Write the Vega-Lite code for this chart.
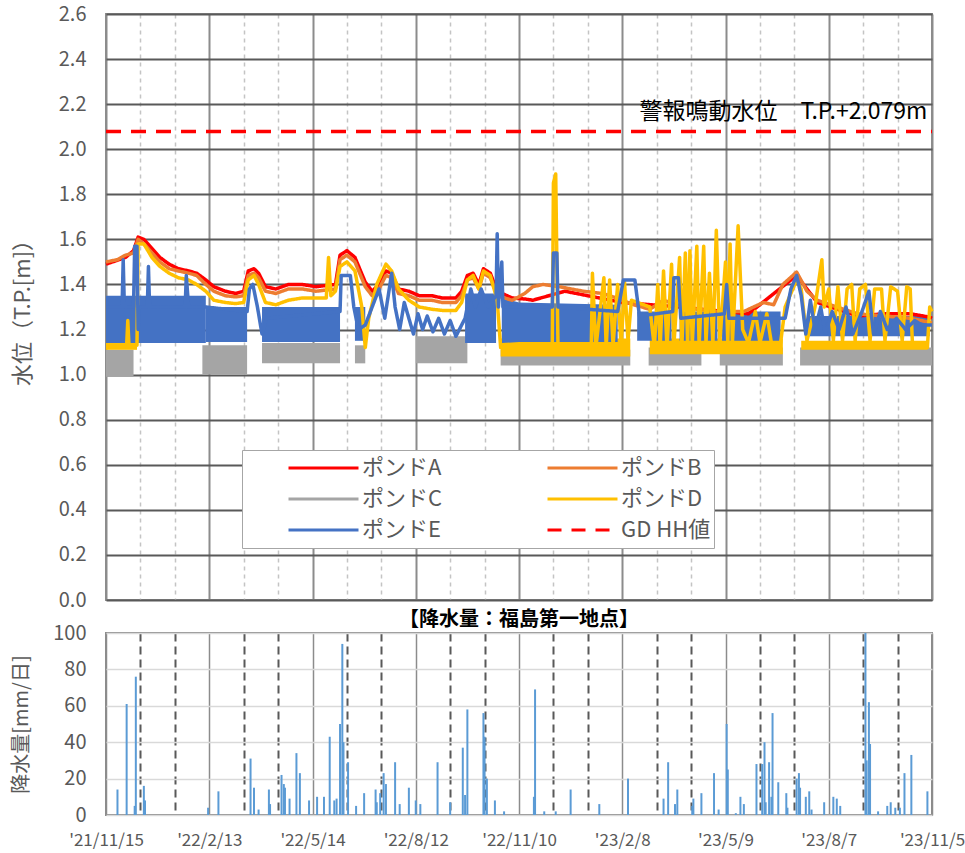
{
  "$schema": "https://vega.github.io/schema/vega-lite/v6.json",
  "padding": {"left": 9, "top": 3, "right": 5, "bottom": 4},
  "spacing": 33,
  "bounds": "flush",
  "resolve": {"scale": {"x": "independent", "y": "independent"}},
  "config": {
    "font": "Noto Sans CJK JP",
    "view": {"stroke": "#8c8c8c", "strokeWidth": 2},
    "axis": {"labelColor": "#595959", "titleColor": "#595959", "titleFontWeight": "normal"}
  },
  "datasets": {
    "levels": [
      {"series": "ポンドA", "date": "2021-11-15", "value": 1.49},
      {"series": "ポンドA", "date": "2021-12-02", "value": 1.52},
      {"series": "ポンドA", "date": "2021-12-09", "value": 1.55},
      {"series": "ポンドA", "date": "2021-12-13", "value": 1.61},
      {"series": "ポンドA", "date": "2021-12-18", "value": 1.60},
      {"series": "ポンドA", "date": "2021-12-25", "value": 1.56},
      {"series": "ポンドA", "date": "2022-01-01", "value": 1.52},
      {"series": "ポンドA", "date": "2022-01-09", "value": 1.49},
      {"series": "ポンドA", "date": "2022-01-17", "value": 1.47},
      {"series": "ポンドA", "date": "2022-01-26", "value": 1.46},
      {"series": "ポンドA", "date": "2022-02-02", "value": 1.45},
      {"series": "ポンドA", "date": "2022-02-10", "value": 1.42},
      {"series": "ポンドA", "date": "2022-02-17", "value": 1.39},
      {"series": "ポンドA", "date": "2022-02-27", "value": 1.37},
      {"series": "ポンドA", "date": "2022-03-08", "value": 1.36},
      {"series": "ポンドA", "date": "2022-03-15", "value": 1.37},
      {"series": "ポンドA", "date": "2022-03-19", "value": 1.46},
      {"series": "ポンドA", "date": "2022-03-24", "value": 1.47},
      {"series": "ポンドA", "date": "2022-03-28", "value": 1.45},
      {"series": "ポンドA", "date": "2022-04-03", "value": 1.39},
      {"series": "ポンドA", "date": "2022-04-12", "value": 1.38},
      {"series": "ポンドA", "date": "2022-04-23", "value": 1.40},
      {"series": "ポンドA", "date": "2022-05-05", "value": 1.40},
      {"series": "ポンドA", "date": "2022-05-17", "value": 1.39},
      {"series": "ポンドA", "date": "2022-06-03", "value": 1.40},
      {"series": "ポンドA", "date": "2022-06-07", "value": 1.53},
      {"series": "ポンドA", "date": "2022-06-13", "value": 1.55},
      {"series": "ポンドA", "date": "2022-06-20", "value": 1.52},
      {"series": "ポンドA", "date": "2022-06-29", "value": 1.41},
      {"series": "ポンドA", "date": "2022-07-05", "value": 1.37},
      {"series": "ポンドA", "date": "2022-07-11", "value": 1.40},
      {"series": "ポンドA", "date": "2022-07-17", "value": 1.46},
      {"series": "ポンドA", "date": "2022-07-22", "value": 1.45},
      {"series": "ポンドA", "date": "2022-07-28", "value": 1.38},
      {"series": "ポンドA", "date": "2022-08-06", "value": 1.37},
      {"series": "ポンドA", "date": "2022-08-15", "value": 1.35},
      {"series": "ポンドA", "date": "2022-08-26", "value": 1.35},
      {"series": "ポンドA", "date": "2022-09-04", "value": 1.34},
      {"series": "ポンドA", "date": "2022-09-16", "value": 1.34},
      {"series": "ポンドA", "date": "2022-09-21", "value": 1.37},
      {"series": "ポンドA", "date": "2022-09-26", "value": 1.44},
      {"series": "ポンドA", "date": "2022-10-01", "value": 1.45},
      {"series": "ポンドA", "date": "2022-10-06", "value": 1.40},
      {"series": "ポンドA", "date": "2022-10-10", "value": 1.47},
      {"series": "ポンドA", "date": "2022-10-16", "value": 1.45},
      {"series": "ポンドA", "date": "2022-10-22", "value": 1.37},
      {"series": "ポンドA", "date": "2022-11-04", "value": 1.34},
      {"series": "ポンドA", "date": "2022-11-16", "value": 1.335},
      {"series": "ポンドA", "date": "2022-11-22", "value": 1.33},
      {"series": "ポンドA", "date": "2022-12-20", "value": 1.37},
      {"series": "ポンドA", "date": "2023-02-08", "value": 1.32},
      {"series": "ポンドA", "date": "2023-03-30", "value": 1.30},
      {"series": "ポンドA", "date": "2023-05-29", "value": 1.27},
      {"series": "ポンドA", "date": "2023-07-10", "value": 1.44},
      {"series": "ポンドA", "date": "2023-07-28", "value": 1.32},
      {"series": "ポンドA", "date": "2023-09-01", "value": 1.26},
      {"series": "ポンドA", "date": "2023-09-24", "value": 1.27},
      {"series": "ポンドA", "date": "2023-10-17", "value": 1.27},
      {"series": "ポンドA", "date": "2023-11-03", "value": 1.255},
      {"series": "ポンドA", "date": "2023-11-05", "value": 1.25},

      {"series": "ポンドB", "date": "2021-11-15", "value": 1.50},
      {"series": "ポンドB", "date": "2021-11-25", "value": 1.51},
      {"series": "ポンドB", "date": "2021-12-02", "value": 1.53},
      {"series": "ポンドB", "date": "2021-12-09", "value": 1.54},
      {"series": "ポンドB", "date": "2021-12-13", "value": 1.60},
      {"series": "ポンドB", "date": "2021-12-18", "value": 1.58},
      {"series": "ポンドB", "date": "2021-12-25", "value": 1.54},
      {"series": "ポンドB", "date": "2022-01-01", "value": 1.50},
      {"series": "ポンドB", "date": "2022-01-09", "value": 1.47},
      {"series": "ポンドB", "date": "2022-01-17", "value": 1.46},
      {"series": "ポンドB", "date": "2022-01-26", "value": 1.45},
      {"series": "ポンドB", "date": "2022-02-02", "value": 1.44},
      {"series": "ポンドB", "date": "2022-02-10", "value": 1.40},
      {"series": "ポンドB", "date": "2022-02-17", "value": 1.37},
      {"series": "ポンドB", "date": "2022-02-27", "value": 1.35},
      {"series": "ポンドB", "date": "2022-03-08", "value": 1.345},
      {"series": "ポンドB", "date": "2022-03-15", "value": 1.35},
      {"series": "ポンドB", "date": "2022-03-19", "value": 1.44},
      {"series": "ポンドB", "date": "2022-03-24", "value": 1.45},
      {"series": "ポンドB", "date": "2022-03-28", "value": 1.43},
      {"series": "ポンドB", "date": "2022-04-03", "value": 1.37},
      {"series": "ポンドB", "date": "2022-04-12", "value": 1.36},
      {"series": "ポンドB", "date": "2022-04-23", "value": 1.38},
      {"series": "ポンドB", "date": "2022-05-05", "value": 1.38},
      {"series": "ポンドB", "date": "2022-05-17", "value": 1.37},
      {"series": "ポンドB", "date": "2022-06-03", "value": 1.38},
      {"series": "ポンドB", "date": "2022-06-07", "value": 1.51},
      {"series": "ポンドB", "date": "2022-06-13", "value": 1.53},
      {"series": "ポンドB", "date": "2022-06-20", "value": 1.50},
      {"series": "ポンドB", "date": "2022-06-29", "value": 1.39},
      {"series": "ポンドB", "date": "2022-07-05", "value": 1.35},
      {"series": "ポンドB", "date": "2022-07-11", "value": 1.38},
      {"series": "ポンドB", "date": "2022-07-17", "value": 1.44},
      {"series": "ポンドB", "date": "2022-07-22", "value": 1.43},
      {"series": "ポンドB", "date": "2022-07-28", "value": 1.36},
      {"series": "ポンドB", "date": "2022-08-06", "value": 1.35},
      {"series": "ポンドB", "date": "2022-08-15", "value": 1.33},
      {"series": "ポンドB", "date": "2022-08-26", "value": 1.33},
      {"series": "ポンドB", "date": "2022-09-04", "value": 1.32},
      {"series": "ポンドB", "date": "2022-09-16", "value": 1.32},
      {"series": "ポンドB", "date": "2022-09-21", "value": 1.35},
      {"series": "ポンドB", "date": "2022-09-26", "value": 1.42},
      {"series": "ポンドB", "date": "2022-10-01", "value": 1.43},
      {"series": "ポンドB", "date": "2022-10-06", "value": 1.38},
      {"series": "ポンドB", "date": "2022-10-10", "value": 1.45},
      {"series": "ポンドB", "date": "2022-10-16", "value": 1.43},
      {"series": "ポンドB", "date": "2022-10-22", "value": 1.35},
      {"series": "ポンドB", "date": "2022-11-04", "value": 1.33},
      {"series": "ポンドB", "date": "2022-11-08", "value": 1.34},
      {"series": "ポンドB", "date": "2022-11-15", "value": 1.36},
      {"series": "ポンドB", "date": "2022-11-22", "value": 1.39},
      {"series": "ポンドB", "date": "2022-12-01", "value": 1.40},
      {"series": "ポンドB", "date": "2022-12-15", "value": 1.39},
      {"series": "ポンドB", "date": "2023-01-05", "value": 1.37},
      {"series": "ポンドB", "date": "2023-01-22", "value": 1.36},
      {"series": "ポンドB", "date": "2023-02-03", "value": 1.34},
      {"series": "ポンドB", "date": "2023-02-18", "value": 1.31},
      {"series": "ポンドB", "date": "2023-03-04", "value": 1.29},
      {"series": "ポンドB", "date": "2023-03-16", "value": 1.33},
      {"series": "ポンドB", "date": "2023-03-27", "value": 1.31},
      {"series": "ポンドB", "date": "2023-04-14", "value": 1.29},
      {"series": "ポンドB", "date": "2023-05-01", "value": 1.28},
      {"series": "ポンドB", "date": "2023-05-25", "value": 1.28},
      {"series": "ポンドB", "date": "2023-06-11", "value": 1.32},
      {"series": "ポンドB", "date": "2023-06-20", "value": 1.31},
      {"series": "ポンドB", "date": "2023-06-28", "value": 1.40},
      {"series": "ポンドB", "date": "2023-07-10", "value": 1.455},
      {"series": "ポンドB", "date": "2023-07-19", "value": 1.37},
      {"series": "ポンドB", "date": "2023-07-28", "value": 1.33},
      {"series": "ポンドB", "date": "2023-08-14", "value": 1.30},
      {"series": "ポンドB", "date": "2023-09-01", "value": 1.27},
      {"series": "ポンドB", "date": "2023-09-24", "value": 1.26},
      {"series": "ポンドB", "date": "2023-10-17", "value": 1.25},
      {"series": "ポンドB", "date": "2023-11-05", "value": 1.23},

      {"series": "ポンドD", "date": "2021-11-15", "value": 1.13},
      {"series": "ポンドD", "date": "2021-12-03", "value": 1.13},
      {"series": "ポンドD", "date": "2021-12-04", "value": 1.24},
      {"series": "ポンドD", "date": "2021-12-05", "value": 1.13},
      {"series": "ポンドD", "date": "2021-12-12", "value": 1.13},
      {"series": "ポンドD", "date": "2021-12-13", "value": 1.58},
      {"series": "ポンドD", "date": "2021-12-18", "value": 1.58},
      {"series": "ポンドD", "date": "2021-12-25", "value": 1.52},
      {"series": "ポンドD", "date": "2022-01-01", "value": 1.48},
      {"series": "ポンドD", "date": "2022-01-09", "value": 1.45},
      {"series": "ポンドD", "date": "2022-01-17", "value": 1.43},
      {"series": "ポンドD", "date": "2022-01-26", "value": 1.42},
      {"series": "ポンドD", "date": "2022-02-02", "value": 1.40},
      {"series": "ポンドD", "date": "2022-02-10", "value": 1.37},
      {"series": "ポンドD", "date": "2022-02-17", "value": 1.33},
      {"series": "ポンドD", "date": "2022-02-27", "value": 1.32},
      {"series": "ポンドD", "date": "2022-03-08", "value": 1.315},
      {"series": "ポンドD", "date": "2022-03-15", "value": 1.32},
      {"series": "ポンドD", "date": "2022-03-19", "value": 1.42},
      {"series": "ポンドD", "date": "2022-03-24", "value": 1.44},
      {"series": "ポンドD", "date": "2022-03-28", "value": 1.40},
      {"series": "ポンドD", "date": "2022-04-03", "value": 1.32},
      {"series": "ポンドD", "date": "2022-04-12", "value": 1.31},
      {"series": "ポンドD", "date": "2022-04-23", "value": 1.33},
      {"series": "ポンドD", "date": "2022-05-05", "value": 1.34},
      {"series": "ポンドD", "date": "2022-05-26", "value": 1.34},
      {"series": "ポンドD", "date": "2022-05-28", "value": 1.52},
      {"series": "ポンドD", "date": "2022-05-30", "value": 1.35},
      {"series": "ポンドD", "date": "2022-06-03", "value": 1.37},
      {"series": "ポンドD", "date": "2022-06-07", "value": 1.48},
      {"series": "ポンドD", "date": "2022-06-13", "value": 1.50},
      {"series": "ポンドD", "date": "2022-06-20", "value": 1.46},
      {"series": "ポンドD", "date": "2022-06-26", "value": 1.30},
      {"series": "ポンドD", "date": "2022-06-29", "value": 1.12},
      {"series": "ポンドD", "date": "2022-07-02", "value": 1.25},
      {"series": "ポンドD", "date": "2022-07-09", "value": 1.40},
      {"series": "ポンドD", "date": "2022-07-17", "value": 1.49},
      {"series": "ポンドD", "date": "2022-07-22", "value": 1.46},
      {"series": "ポンドD", "date": "2022-07-28", "value": 1.38},
      {"series": "ポンドD", "date": "2022-08-06", "value": 1.33},
      {"series": "ポンドD", "date": "2022-08-15", "value": 1.30},
      {"series": "ポンドD", "date": "2022-08-26", "value": 1.29},
      {"series": "ポンドD", "date": "2022-09-04", "value": 1.285},
      {"series": "ポンドD", "date": "2022-09-16", "value": 1.285},
      {"series": "ポンドD", "date": "2022-09-21", "value": 1.32},
      {"series": "ポンドD", "date": "2022-09-26", "value": 1.42},
      {"series": "ポンドD", "date": "2022-10-01", "value": 1.44},
      {"series": "ポンドD", "date": "2022-10-06", "value": 1.38},
      {"series": "ポンドD", "date": "2022-10-10", "value": 1.46},
      {"series": "ポンドD", "date": "2022-10-16", "value": 1.44},
      {"series": "ポンドD", "date": "2022-10-22", "value": 1.33},
      {"series": "ポンドD", "date": "2022-10-25", "value": 1.12},
      {"series": "ポンドD", "date": "2022-12-09", "value": 1.12},
      {"series": "ポンドD", "date": "2022-12-10", "value": 1.85},
      {"series": "ポンドD", "date": "2022-12-12", "value": 1.89},
      {"series": "ポンドD", "date": "2022-12-14", "value": 1.12},
      {"series": "ポンドD", "date": "2023-01-12", "value": 1.12},
      {"series": "ポンドD", "date": "2023-01-13", "value": 1.45},
      {"series": "ポンドD", "date": "2023-01-16", "value": 1.12},
      {"series": "ポンドD", "date": "2023-01-23", "value": 1.43},
      {"series": "ポンドD", "date": "2023-01-25", "value": 1.12},
      {"series": "ポンドD", "date": "2023-01-28", "value": 1.42},
      {"series": "ポンドD", "date": "2023-01-31", "value": 1.13},
      {"series": "ポンドD", "date": "2023-02-04", "value": 1.40},
      {"series": "ポンドD", "date": "2023-02-07", "value": 1.12},
      {"series": "ポンドD", "date": "2023-02-10", "value": 1.41},
      {"series": "ポンドD", "date": "2023-02-13", "value": 1.15},
      {"series": "ポンドD", "date": "2023-02-16", "value": 1.33},
      {"series": "ポンドD", "date": "2023-03-04", "value": 1.30},
      {"series": "ポンドD", "date": "2023-03-08", "value": 1.12},
      {"series": "ポンドD", "date": "2023-03-11", "value": 1.40},
      {"series": "ポンドD", "date": "2023-03-13", "value": 1.12},
      {"series": "ポンドD", "date": "2023-03-16", "value": 1.46},
      {"series": "ポンドD", "date": "2023-03-19", "value": 1.12},
      {"series": "ポンドD", "date": "2023-03-23", "value": 1.49},
      {"series": "ポンドD", "date": "2023-03-25", "value": 1.13},
      {"series": "ポンドD", "date": "2023-03-30", "value": 1.52},
      {"series": "ポンドD", "date": "2023-04-01", "value": 1.13},
      {"series": "ポンドD", "date": "2023-04-04", "value": 1.54},
      {"series": "ポンドD", "date": "2023-04-06", "value": 1.13},
      {"series": "ポンドD", "date": "2023-04-08", "value": 1.55},
      {"series": "ポンドD", "date": "2023-04-10", "value": 1.13},
      {"series": "ポンドD", "date": "2023-04-14", "value": 1.57},
      {"series": "ポンドD", "date": "2023-04-16", "value": 1.13},
      {"series": "ポンドD", "date": "2023-04-20", "value": 1.57},
      {"series": "ポンドD", "date": "2023-04-22", "value": 1.14},
      {"series": "ポンドD", "date": "2023-04-25", "value": 1.45},
      {"series": "ポンドD", "date": "2023-04-28", "value": 1.14},
      {"series": "ポンドD", "date": "2023-05-01", "value": 1.64},
      {"series": "ポンドD", "date": "2023-05-04", "value": 1.14},
      {"series": "ポンドD", "date": "2023-05-09", "value": 1.50},
      {"series": "ポンドD", "date": "2023-05-11", "value": 1.14},
      {"series": "ポンドD", "date": "2023-05-13", "value": 1.58},
      {"series": "ポンドD", "date": "2023-05-15", "value": 1.14},
      {"series": "ポンドD", "date": "2023-05-20", "value": 1.66},
      {"series": "ポンドD", "date": "2023-05-24", "value": 1.20},
      {"series": "ポンドD", "date": "2023-05-29", "value": 1.14},
      {"series": "ポンドD", "date": "2023-06-04", "value": 1.28},
      {"series": "ポンドD", "date": "2023-06-08", "value": 1.14},
      {"series": "ポンドD", "date": "2023-06-14", "value": 1.27},
      {"series": "ポンドD", "date": "2023-06-18", "value": 1.14},
      {"series": "ポンドD", "date": "2023-06-26", "value": 1.14},
      {"series": "ポンドD", "date": "2023-06-30", "value": 1.30},
      {"series": "ポンドD", "date": "2023-07-10", "value": 1.42},
      {"series": "ポンドD", "date": "2023-07-14", "value": 1.38},
      {"series": "ポンドD", "date": "2023-07-19", "value": 1.15},
      {"series": "ポンドD", "date": "2023-07-26", "value": 1.30},
      {"series": "ポンドD", "date": "2023-08-01", "value": 1.51},
      {"series": "ポンドD", "date": "2023-08-03", "value": 1.30},
      {"series": "ポンドD", "date": "2023-08-07", "value": 1.38},
      {"series": "ポンドD", "date": "2023-08-11", "value": 1.15},
      {"series": "ポンドD", "date": "2023-08-15", "value": 1.39},
      {"series": "ポンドD", "date": "2023-08-19", "value": 1.15},
      {"series": "ポンドD", "date": "2023-08-23", "value": 1.38},
      {"series": "ポンドD", "date": "2023-08-27", "value": 1.40},
      {"series": "ポンドD", "date": "2023-08-30", "value": 1.15},
      {"series": "ポンドD", "date": "2023-09-03", "value": 1.38},
      {"series": "ポンドD", "date": "2023-09-08", "value": 1.40},
      {"series": "ポンドD", "date": "2023-09-12", "value": 1.15},
      {"series": "ポンドD", "date": "2023-09-16", "value": 1.38},
      {"series": "ポンドD", "date": "2023-09-22", "value": 1.38},
      {"series": "ポンドD", "date": "2023-09-25", "value": 1.15},
      {"series": "ポンドD", "date": "2023-09-30", "value": 1.39},
      {"series": "ポンドD", "date": "2023-10-06", "value": 1.37},
      {"series": "ポンドD", "date": "2023-10-10", "value": 1.15},
      {"series": "ポンドD", "date": "2023-10-14", "value": 1.39},
      {"series": "ポンドD", "date": "2023-10-17", "value": 1.38},
      {"series": "ポンドD", "date": "2023-10-19", "value": 1.13},
      {"series": "ポンドD", "date": "2023-11-01", "value": 1.12},
      {"series": "ポンドD", "date": "2023-11-03", "value": 1.30},
      {"series": "ポンドD", "date": "2023-11-05", "value": 1.28},

      {"series": "ポンドE", "date": "2021-11-15", "value": 1.30},
      {"series": "ポンドE", "date": "2021-11-29", "value": 1.30},
      {"series": "ポンドE", "date": "2021-11-30", "value": 1.51},
      {"series": "ポンドE", "date": "2021-12-01", "value": 1.30},
      {"series": "ポンドE", "date": "2021-12-09", "value": 1.30},
      {"series": "ポンドE", "date": "2021-12-10", "value": 1.57},
      {"series": "ポンドE", "date": "2021-12-12", "value": 1.57},
      {"series": "ポンドE", "date": "2021-12-13", "value": 1.20},
      {"series": "ポンドE", "date": "2021-12-14", "value": 1.30},
      {"series": "ポンドE", "date": "2021-12-21", "value": 1.30},
      {"series": "ポンドE", "date": "2021-12-22", "value": 1.48},
      {"series": "ポンドE", "date": "2021-12-23", "value": 1.30},
      {"series": "ポンドE", "date": "2022-01-23", "value": 1.30},
      {"series": "ポンドE", "date": "2022-01-24", "value": 1.44},
      {"series": "ポンドE", "date": "2022-01-26", "value": 1.30},
      {"series": "ポンドE", "date": "2022-02-10", "value": 1.30},
      {"series": "ポンドE", "date": "2022-03-18", "value": 1.28},
      {"series": "ポンドE", "date": "2022-03-20", "value": 1.38},
      {"series": "ポンドE", "date": "2022-03-23", "value": 1.40},
      {"series": "ポンドE", "date": "2022-03-27", "value": 1.30},
      {"series": "ポンドE", "date": "2022-03-31", "value": 1.18},
      {"series": "ポンドE", "date": "2022-04-04", "value": 1.25},
      {"series": "ポンドE", "date": "2022-06-07", "value": 1.28},
      {"series": "ポンドE", "date": "2022-06-08", "value": 1.44},
      {"series": "ポンドE", "date": "2022-06-16", "value": 1.44},
      {"series": "ポンドE", "date": "2022-06-19", "value": 1.30},
      {"series": "ポンドE", "date": "2022-06-23", "value": 1.20},
      {"series": "ポンドE", "date": "2022-06-29", "value": 1.22},
      {"series": "ポンドE", "date": "2022-07-05", "value": 1.30},
      {"series": "ポンドE", "date": "2022-07-11", "value": 1.38},
      {"series": "ポンドE", "date": "2022-07-16", "value": 1.25},
      {"series": "ポンドE", "date": "2022-07-22", "value": 1.45},
      {"series": "ポンドE", "date": "2022-07-25", "value": 1.30},
      {"series": "ポンドE", "date": "2022-07-29", "value": 1.20},
      {"series": "ポンドE", "date": "2022-08-02", "value": 1.32},
      {"series": "ポンドE", "date": "2022-08-06", "value": 1.25},
      {"series": "ポンドE", "date": "2022-08-10", "value": 1.18},
      {"series": "ポンドE", "date": "2022-08-14", "value": 1.27},
      {"series": "ポンドE", "date": "2022-08-18", "value": 1.20},
      {"series": "ポンドE", "date": "2022-08-22", "value": 1.26},
      {"series": "ポンドE", "date": "2022-08-27", "value": 1.19},
      {"series": "ポンドE", "date": "2022-09-01", "value": 1.25},
      {"series": "ポンドE", "date": "2022-09-06", "value": 1.18},
      {"series": "ポンドE", "date": "2022-09-11", "value": 1.24},
      {"series": "ポンドE", "date": "2022-09-16", "value": 1.17},
      {"series": "ポンドE", "date": "2022-09-21", "value": 1.22},
      {"series": "ポンドE", "date": "2022-09-24", "value": 1.25},
      {"series": "ポンドE", "date": "2022-09-29", "value": 1.38},
      {"series": "ポンドE", "date": "2022-10-03", "value": 1.30},
      {"series": "ポンドE", "date": "2022-10-08", "value": 1.38},
      {"series": "ポンドE", "date": "2022-10-14", "value": 1.30},
      {"series": "ポンドE", "date": "2022-10-21", "value": 1.35},
      {"series": "ポンドE", "date": "2022-10-22", "value": 1.625},
      {"series": "ポンドE", "date": "2022-10-23", "value": 1.30},
      {"series": "ポンドE", "date": "2022-10-26", "value": 1.50},
      {"series": "ポンドE", "date": "2022-10-27", "value": 1.30},
      {"series": "ポンドE", "date": "2022-12-09", "value": 1.30},
      {"series": "ポンドE", "date": "2022-12-10", "value": 1.54},
      {"series": "ポンドE", "date": "2022-12-13", "value": 1.54},
      {"series": "ポンドE", "date": "2022-12-14", "value": 1.30},
      {"series": "ポンドE", "date": "2023-02-04", "value": 1.28},
      {"series": "ポンドE", "date": "2023-02-09", "value": 1.42},
      {"series": "ポンドE", "date": "2023-02-19", "value": 1.42},
      {"series": "ポンドE", "date": "2023-02-23", "value": 1.26},
      {"series": "ポンドE", "date": "2023-03-24", "value": 1.28},
      {"series": "ポンドE", "date": "2023-03-25", "value": 1.43},
      {"series": "ポンドE", "date": "2023-03-29", "value": 1.43},
      {"series": "ポンドE", "date": "2023-03-31", "value": 1.25},
      {"series": "ポンドE", "date": "2023-05-08", "value": 1.27},
      {"series": "ポンドE", "date": "2023-05-10", "value": 1.40},
      {"series": "ポンドE", "date": "2023-05-12", "value": 1.25},
      {"series": "ポンドE", "date": "2023-06-30", "value": 1.25},
      {"series": "ポンドE", "date": "2023-07-05", "value": 1.38},
      {"series": "ポンドE", "date": "2023-07-10", "value": 1.44},
      {"series": "ポンドE", "date": "2023-07-14", "value": 1.35},
      {"series": "ポンドE", "date": "2023-07-18", "value": 1.18},
      {"series": "ポンドE", "date": "2023-07-22", "value": 1.33},
      {"series": "ポンドE", "date": "2023-07-26", "value": 1.20},
      {"series": "ポンドE", "date": "2023-07-31", "value": 1.30},
      {"series": "ポンドE", "date": "2023-08-04", "value": 1.18},
      {"series": "ポンドE", "date": "2023-08-10", "value": 1.28},
      {"series": "ポンドE", "date": "2023-08-16", "value": 1.20},
      {"series": "ポンドE", "date": "2023-08-22", "value": 1.30},
      {"series": "ポンドE", "date": "2023-08-28", "value": 1.18},
      {"series": "ポンドE", "date": "2023-09-05", "value": 1.28},
      {"series": "ポンドE", "date": "2023-09-11", "value": 1.37},
      {"series": "ポンドE", "date": "2023-09-15", "value": 1.18},
      {"series": "ポンドE", "date": "2023-09-21", "value": 1.28},
      {"series": "ポンドE", "date": "2023-09-27", "value": 1.20},
      {"series": "ポンドE", "date": "2023-10-05", "value": 1.25},
      {"series": "ポンドE", "date": "2023-10-13", "value": 1.20},
      {"series": "ポンドE", "date": "2023-10-21", "value": 1.24},
      {"series": "ポンドE", "date": "2023-10-27", "value": 1.22},
      {"series": "ポンドE", "date": "2023-11-05", "value": 1.22},

      {"series": "GD HH値", "date": "2021-11-15", "value": 2.079},
      {"series": "GD HH値", "date": "2023-11-05", "value": 2.079}
    ],
    "bands": [
      {"pond": "ポンドC", "seg": "C1", "date": "2021-11-15", "lo": 0.99, "hi": 1.11},
      {"pond": "ポンドC", "seg": "C1", "date": "2021-12-09", "lo": 0.99, "hi": 1.11},
      {"pond": "ポンドC", "seg": "C2", "date": "2022-02-07", "lo": 1.00, "hi": 1.13},
      {"pond": "ポンドC", "seg": "C2", "date": "2022-03-18", "lo": 1.00, "hi": 1.13},
      {"pond": "ポンドC", "seg": "C3", "date": "2022-03-31", "lo": 1.05, "hi": 1.14},
      {"pond": "ポンドC", "seg": "C3", "date": "2022-06-07", "lo": 1.05, "hi": 1.14},
      {"pond": "ポンドC", "seg": "C4", "date": "2022-06-20", "lo": 1.05, "hi": 1.13},
      {"pond": "ポンドC", "seg": "C4", "date": "2022-06-29", "lo": 1.05, "hi": 1.13},
      {"pond": "ポンドC", "seg": "C5", "date": "2022-08-12", "lo": 1.05, "hi": 1.17},
      {"pond": "ポンドC", "seg": "C5", "date": "2022-09-26", "lo": 1.05, "hi": 1.17},
      {"pond": "ポンドC", "seg": "C6", "date": "2022-10-25", "lo": 1.04, "hi": 1.11},
      {"pond": "ポンドC", "seg": "C6", "date": "2023-02-15", "lo": 1.04, "hi": 1.11},
      {"pond": "ポンドC", "seg": "C7", "date": "2023-03-03", "lo": 1.04, "hi": 1.12},
      {"pond": "ポンドC", "seg": "C7", "date": "2023-04-18", "lo": 1.04, "hi": 1.12},
      {"pond": "ポンドC", "seg": "C8", "date": "2023-05-04", "lo": 1.04, "hi": 1.12},
      {"pond": "ポンドC", "seg": "C8", "date": "2023-06-28", "lo": 1.04, "hi": 1.12},
      {"pond": "ポンドC", "seg": "C9", "date": "2023-07-13", "lo": 1.04, "hi": 1.12},
      {"pond": "ポンドC", "seg": "C9", "date": "2023-11-05", "lo": 1.04, "hi": 1.12},

      {"pond": "ポンドD", "seg": "D1", "date": "2021-11-15", "lo": 1.11, "hi": 1.14},
      {"pond": "ポンドD", "seg": "D1", "date": "2021-12-12", "lo": 1.11, "hi": 1.14},
      {"pond": "ポンドD", "seg": "D2", "date": "2022-10-25", "lo": 1.08, "hi": 1.16},
      {"pond": "ポンドD", "seg": "D2", "date": "2023-02-15", "lo": 1.08, "hi": 1.16},
      {"pond": "ポンドD", "seg": "D3", "date": "2023-03-04", "lo": 1.09, "hi": 1.16},
      {"pond": "ポンドD", "seg": "D3", "date": "2023-06-28", "lo": 1.09, "hi": 1.16},
      {"pond": "ポンドD", "seg": "D4", "date": "2023-07-14", "lo": 1.11, "hi": 1.15},
      {"pond": "ポンドD", "seg": "D4", "date": "2023-11-01", "lo": 1.11, "hi": 1.15},

      {"pond": "ポンドE", "seg": "E1", "date": "2021-11-15", "lo": 1.14, "hi": 1.35},
      {"pond": "ポンドE", "seg": "E1", "date": "2022-02-10", "lo": 1.14, "hi": 1.35},
      {"pond": "ポンドE", "seg": "E2", "date": "2022-02-10", "lo": 1.145, "hi": 1.30},
      {"pond": "ポンドE", "seg": "E2", "date": "2022-03-18", "lo": 1.145, "hi": 1.30},
      {"pond": "ポンドE", "seg": "E3", "date": "2022-03-31", "lo": 1.145, "hi": 1.30},
      {"pond": "ポンドE", "seg": "E3", "date": "2022-06-07", "lo": 1.145, "hi": 1.30},
      {"pond": "ポンドE", "seg": "E4", "date": "2022-06-20", "lo": 1.15, "hi": 1.30},
      {"pond": "ポンドE", "seg": "E4", "date": "2022-06-29", "lo": 1.15, "hi": 1.30},
      {"pond": "ポンドE", "seg": "E5", "date": "2022-09-24", "lo": 1.14, "hi": 1.36},
      {"pond": "ポンドE", "seg": "E5", "date": "2022-10-21", "lo": 1.14, "hi": 1.36},
      {"pond": "ポンドE", "seg": "E6", "date": "2022-10-26", "lo": 1.14, "hi": 1.34},
      {"pond": "ポンドE", "seg": "E6", "date": "2022-11-10", "lo": 1.145, "hi": 1.32},
      {"pond": "ポンドE", "seg": "E6", "date": "2023-02-04", "lo": 1.145, "hi": 1.31},
      {"pond": "ポンドE", "seg": "E7", "date": "2023-02-21", "lo": 1.15, "hi": 1.28},
      {"pond": "ポンドE", "seg": "E7", "date": "2023-03-23", "lo": 1.15, "hi": 1.28},
      {"pond": "ポンドE", "seg": "E8", "date": "2023-03-30", "lo": 1.15, "hi": 1.28},
      {"pond": "ポンドE", "seg": "E8", "date": "2023-05-02", "lo": 1.15, "hi": 1.28},
      {"pond": "ポンドE", "seg": "E9", "date": "2023-05-06", "lo": 1.15, "hi": 1.28},
      {"pond": "ポンドE", "seg": "E9", "date": "2023-06-26", "lo": 1.15, "hi": 1.28},
      {"pond": "ポンドE", "seg": "E10", "date": "2023-07-20", "lo": 1.17, "hi": 1.26},
      {"pond": "ポンドE", "seg": "E10", "date": "2023-11-03", "lo": 1.17, "hi": 1.26}
    ],
    "note": [
      {"date": "2023-11-01", "value": 2.165, "label": "警報鳴動水位　T.P.+2.079m"}
    ],
    "rain": [
      {"date": "2021-11-25", "mm": 14}, {"date": "2021-12-03", "mm": 61}, {"date": "2021-12-10", "mm": 5},
      {"date": "2021-12-11", "mm": 76}, {"date": "2021-12-18", "mm": 16}, {"date": "2021-12-19", "mm": 8},
      {"date": "2022-02-12", "mm": 4}, {"date": "2022-02-21", "mm": 13}, {"date": "2022-03-21", "mm": 31},
      {"date": "2022-03-24", "mm": 15}, {"date": "2022-03-28", "mm": 3}, {"date": "2022-04-06", "mm": 14},
      {"date": "2022-04-07", "mm": 6}, {"date": "2022-04-17", "mm": 22}, {"date": "2022-04-19", "mm": 17},
      {"date": "2022-04-20", "mm": 15}, {"date": "2022-04-24", "mm": 9}, {"date": "2022-04-30", "mm": 34},
      {"date": "2022-05-03", "mm": 23}, {"date": "2022-05-11", "mm": 8}, {"date": "2022-05-18", "mm": 10},
      {"date": "2022-05-24", "mm": 10}, {"date": "2022-05-29", "mm": 43}, {"date": "2022-06-02", "mm": 8},
      {"date": "2022-06-04", "mm": 9}, {"date": "2022-06-07", "mm": 50}, {"date": "2022-06-09", "mm": 94},
      {"date": "2022-06-10", "mm": 40}, {"date": "2022-06-14", "mm": 29}, {"date": "2022-06-21", "mm": 5},
      {"date": "2022-06-28", "mm": 12}, {"date": "2022-07-08", "mm": 14}, {"date": "2022-07-09", "mm": 7},
      {"date": "2022-07-12", "mm": 12}, {"date": "2022-07-15", "mm": 23}, {"date": "2022-07-17", "mm": 17},
      {"date": "2022-07-25", "mm": 29}, {"date": "2022-07-29", "mm": 6}, {"date": "2022-08-06", "mm": 15},
      {"date": "2022-08-12", "mm": 8}, {"date": "2022-08-16", "mm": 6}, {"date": "2022-08-31", "mm": 29},
      {"date": "2022-09-11", "mm": 7}, {"date": "2022-09-22", "mm": 37}, {"date": "2022-09-24", "mm": 11},
      {"date": "2022-09-26", "mm": 58}, {"date": "2022-10-10", "mm": 56}, {"date": "2022-10-11", "mm": 43},
      {"date": "2022-10-13", "mm": 20}, {"date": "2022-10-20", "mm": 8}, {"date": "2022-10-28", "mm": 2},
      {"date": "2022-11-23", "mm": 10}, {"date": "2022-11-24", "mm": 69}, {"date": "2022-12-02", "mm": 2},
      {"date": "2022-12-12", "mm": 2}, {"date": "2022-12-25", "mm": 14}, {"date": "2023-01-19", "mm": 6},
      {"date": "2023-02-13", "mm": 20}, {"date": "2023-03-16", "mm": 9}, {"date": "2023-03-20", "mm": 29},
      {"date": "2023-03-26", "mm": 6}, {"date": "2023-03-28", "mm": 14}, {"date": "2023-04-10", "mm": 5},
      {"date": "2023-04-11", "mm": 9}, {"date": "2023-04-18", "mm": 12}, {"date": "2023-04-29", "mm": 23},
      {"date": "2023-05-03", "mm": 3}, {"date": "2023-05-10", "mm": 50}, {"date": "2023-05-11", "mm": 25},
      {"date": "2023-05-18", "mm": 1}, {"date": "2023-05-22", "mm": 10}, {"date": "2023-05-25", "mm": 6},
      {"date": "2023-06-05", "mm": 28}, {"date": "2023-06-10", "mm": 28}, {"date": "2023-06-12", "mm": 40},
      {"date": "2023-06-13", "mm": 7}, {"date": "2023-06-16", "mm": 29}, {"date": "2023-06-18", "mm": 10},
      {"date": "2023-06-19", "mm": 56}, {"date": "2023-06-24", "mm": 18}, {"date": "2023-07-01", "mm": 12},
      {"date": "2023-07-02", "mm": 4}, {"date": "2023-07-10", "mm": 20}, {"date": "2023-07-12", "mm": 23},
      {"date": "2023-07-13", "mm": 15}, {"date": "2023-07-18", "mm": 10}, {"date": "2023-07-21", "mm": 13},
      {"date": "2023-07-23", "mm": 3}, {"date": "2023-08-03", "mm": 7}, {"date": "2023-08-11", "mm": 10},
      {"date": "2023-08-14", "mm": 9}, {"date": "2023-08-17", "mm": 5}, {"date": "2023-09-08", "mm": 100},
      {"date": "2023-09-09", "mm": 30}, {"date": "2023-09-11", "mm": 62}, {"date": "2023-09-12", "mm": 39},
      {"date": "2023-09-19", "mm": 2}, {"date": "2023-09-27", "mm": 5}, {"date": "2023-09-30", "mm": 7},
      {"date": "2023-10-04", "mm": 4}, {"date": "2023-10-08", "mm": 4}, {"date": "2023-10-12", "mm": 23},
      {"date": "2023-10-18", "mm": 33}, {"date": "2023-11-01", "mm": 13}
    ]
  },
  "vconcat": [
    {
      "width": 826,
      "height": 586,
      "layer": [
        {
          "data": {"name": "bands"},
          "mark": {"type": "area", "opacity": 1},
          "encoding": {
            "x": {
              "field": "date", "type": "temporal",
              "scale": {"type": "utc", "domain": [{"year": 2021, "month": 11, "date": 15, "utc": true}, {"year": 2023, "month": 11, "date": 5, "utc": true}]},
              "axis": {
                "title": null, "labels": false, "ticks": false, "domain": false, "grid": true, "tickCount": 60,
                "values": [
                  {"year": 2021, "month": 11, "date": 15, "utc": true}, {"year": 2021, "month": 12, "date": 15, "utc": true},
                  {"year": 2022, "month": 1, "date": 14, "utc": true}, {"year": 2022, "month": 2, "date": 13, "utc": true},
                  {"year": 2022, "month": 3, "date": 15, "utc": true}, {"year": 2022, "month": 4, "date": 14, "utc": true},
                  {"year": 2022, "month": 5, "date": 14, "utc": true}, {"year": 2022, "month": 6, "date": 13, "utc": true},
                  {"year": 2022, "month": 7, "date": 13, "utc": true}, {"year": 2022, "month": 8, "date": 12, "utc": true},
                  {"year": 2022, "month": 9, "date": 11, "utc": true}, {"year": 2022, "month": 10, "date": 11, "utc": true},
                  {"year": 2022, "month": 11, "date": 10, "utc": true}, {"year": 2022, "month": 12, "date": 10, "utc": true},
                  {"year": 2023, "month": 1, "date": 9, "utc": true}, {"year": 2023, "month": 2, "date": 8, "utc": true},
                  {"year": 2023, "month": 3, "date": 10, "utc": true}, {"year": 2023, "month": 4, "date": 9, "utc": true},
                  {"year": 2023, "month": 5, "date": 9, "utc": true}, {"year": 2023, "month": 6, "date": 8, "utc": true},
                  {"year": 2023, "month": 7, "date": 8, "utc": true}, {"year": 2023, "month": 8, "date": 7, "utc": true},
                  {"year": 2023, "month": 9, "date": 6, "utc": true}, {"year": 2023, "month": 10, "date": 6, "utc": true},
                  {"year": 2023, "month": 11, "date": 5, "utc": true}
                ],
                "gridColor": {"condition": {"test": "round((datum.value - 1636934400000) / 86400000) % 90 === 0", "value": "#8c8c8c"}, "value": "#c4c4c4"},
                "gridDash": {"condition": {"test": "round((datum.value - 1636934400000) / 86400000) % 90 === 0", "value": []}, "value": [4, 4]},
                "gridWidth": {"condition": {"test": "round((datum.value - 1636934400000) / 86400000) % 90 === 0", "value": 2}, "value": 1.5}
              }
            },
            "y": {
              "field": "lo", "type": "quantitative",
              "scale": {"domain": [0, 2.6], "nice": false, "zero": true},
              "axis": {
                "values": [0, 0.2, 0.4, 0.6, 0.8, 1.0, 1.2, 1.4, 1.6, 1.8, 2.0, 2.2, 2.4, 2.6],
                "format": ".1f", "labelFontSize": 20, "labelPadding": 20, "ticks": false, "domain": false,
                "gridColor": "#595959", "gridWidth": 2,
                "title": "水位（T.P.[m]）", "titleFontSize": 22, "titleX": -84, "titleY": 293, "titleBaseline": "middle"
              }
            },
            "y2": {"field": "hi"},
            "fill": {
              "field": "pond", "type": "nominal",
              "scale": {"domain": ["ポンドC", "ポンドD", "ポンドE"], "range": ["#a5a5a5", "#ffc000", "#4472c4"]},
              "legend": null
            },
            "detail": {"field": "seg"}
          }
        },
        {
          "data": {"name": "levels"},
          "mark": {"type": "line", "strokeWidth": 3.5, "strokeJoin": "round"},
          "encoding": {
            "x": {"field": "date", "type": "temporal"},
            "y": {"field": "value", "type": "quantitative"},
            "color": {
              "field": "series", "type": "nominal",
              "scale": {"domain": ["ポンドA", "ポンドB", "ポンドC", "ポンドD", "ポンドE", "GD HH値"], "range": ["#ff0000", "#ed7d31", "#a5a5a5", "#ffc000", "#4472c4", "#ff0000"]},
              "legend": {
                "title": null, "orient": "none", "legendX": 136, "legendY": 436, "direction": "horizontal",
                "columns": 2, "columnPadding": 61, "rowPadding": 1,
                "symbolType": "stroke", "symbolSize": 4900, "symbolStrokeWidth": 3, "symbolOffset": 42,
                "clipHeight": 30, "labelFontSize": 22, "labelColor": "#595959", "labelOffset": 2,
                "labelLimit": 300, "fillColor": "#ffffff", "strokeColor": "#a6a6a6", "padding": 3,
                "encode": {"symbols": {"update": {"strokeDash": {"signal": "datum.label === 'GD HH値' ? [14, 10] : [1, 0]"}}}}
              }
            },
            "strokeDash": {
              "condition": {"test": "datum.series === 'GD HH値'", "value": [15, 10]},
              "value": [1, 0]
            }
          }
        },
        {
          "data": {"name": "note"},
          "mark": {"type": "text", "align": "right", "baseline": "middle", "fontSize": 23, "color": "#000000"},
          "encoding": {
            "x": {"field": "date", "type": "temporal"},
            "y": {"field": "value", "type": "quantitative"},
            "text": {"field": "label"}
          }
        }
      ]
    },
    {
      "width": 826,
      "height": 182,
      "title": {"text": "【降水量：福島第一地点】", "fontSize": 20, "fontWeight": "bold", "color": "#000000", "offset": 4, "dy": 11, "anchor": "middle", "frame": "group"},
      "data": {"name": "rain"},
      "mark": {"type": "bar", "size": 2, "color": "#5b9bd5"},
      "encoding": {
        "x": {
          "field": "date", "type": "temporal",
          "scale": {"type": "utc", "padding": 0, "domain": [{"year": 2021, "month": 11, "date": 15, "utc": true}, {"year": 2023, "month": 11, "date": 5, "utc": true}]},
          "axis": {
            "title": null, "ticks": false, "domain": false, "grid": true, "tickCount": 60,
            "labelFontSize": 17, "labelPadding": 17, "labelFlush": false, "labelOverlap": false,
            "labelExpr": "round((datum.value - 1636934400000) / 86400000) % 90 === 0 ? \"'\" + utcFormat(datum.value, '%y/%-m/%-d') : ''",
            "values": [
              {"year": 2021, "month": 11, "date": 15, "utc": true}, {"year": 2021, "month": 12, "date": 15, "utc": true},
              {"year": 2022, "month": 1, "date": 14, "utc": true}, {"year": 2022, "month": 2, "date": 13, "utc": true},
              {"year": 2022, "month": 3, "date": 15, "utc": true}, {"year": 2022, "month": 4, "date": 14, "utc": true},
              {"year": 2022, "month": 5, "date": 14, "utc": true}, {"year": 2022, "month": 6, "date": 13, "utc": true},
              {"year": 2022, "month": 7, "date": 13, "utc": true}, {"year": 2022, "month": 8, "date": 12, "utc": true},
              {"year": 2022, "month": 9, "date": 11, "utc": true}, {"year": 2022, "month": 10, "date": 11, "utc": true},
              {"year": 2022, "month": 11, "date": 10, "utc": true}, {"year": 2022, "month": 12, "date": 10, "utc": true},
              {"year": 2023, "month": 1, "date": 9, "utc": true}, {"year": 2023, "month": 2, "date": 8, "utc": true},
              {"year": 2023, "month": 3, "date": 10, "utc": true}, {"year": 2023, "month": 4, "date": 9, "utc": true},
              {"year": 2023, "month": 5, "date": 9, "utc": true}, {"year": 2023, "month": 6, "date": 8, "utc": true},
              {"year": 2023, "month": 7, "date": 8, "utc": true}, {"year": 2023, "month": 8, "date": 7, "utc": true},
              {"year": 2023, "month": 9, "date": 6, "utc": true}, {"year": 2023, "month": 10, "date": 6, "utc": true},
              {"year": 2023, "month": 11, "date": 5, "utc": true}
            ],
            "gridColor": {"condition": {"test": "round((datum.value - 1636934400000) / 86400000) % 90 === 0", "value": "#8c8c8c"}, "value": "#595959"},
            "gridDash": {"condition": {"test": "round((datum.value - 1636934400000) / 86400000) % 90 === 0", "value": []}, "value": [8, 5]},
            "gridWidth": {"condition": {"test": "round((datum.value - 1636934400000) / 86400000) % 90 === 0", "value": 1.5}, "value": 2}
          }
        },
        "y": {
          "field": "mm", "type": "quantitative",
          "scale": {"domain": [0, 100], "nice": false},
          "axis": {
            "values": [0, 20, 40, 60, 80, 100], "labelFontSize": 20, "labelPadding": 20, "ticks": false, "domain": false,
            "gridColor": "#d9d9d9", "gridWidth": 1.5,
            "title": "降水量[mm/日]", "titleFontSize": 20, "titleX": -85, "titleY": 91, "titleBaseline": "middle"
          }
        }
      }
    }
  ]
}
